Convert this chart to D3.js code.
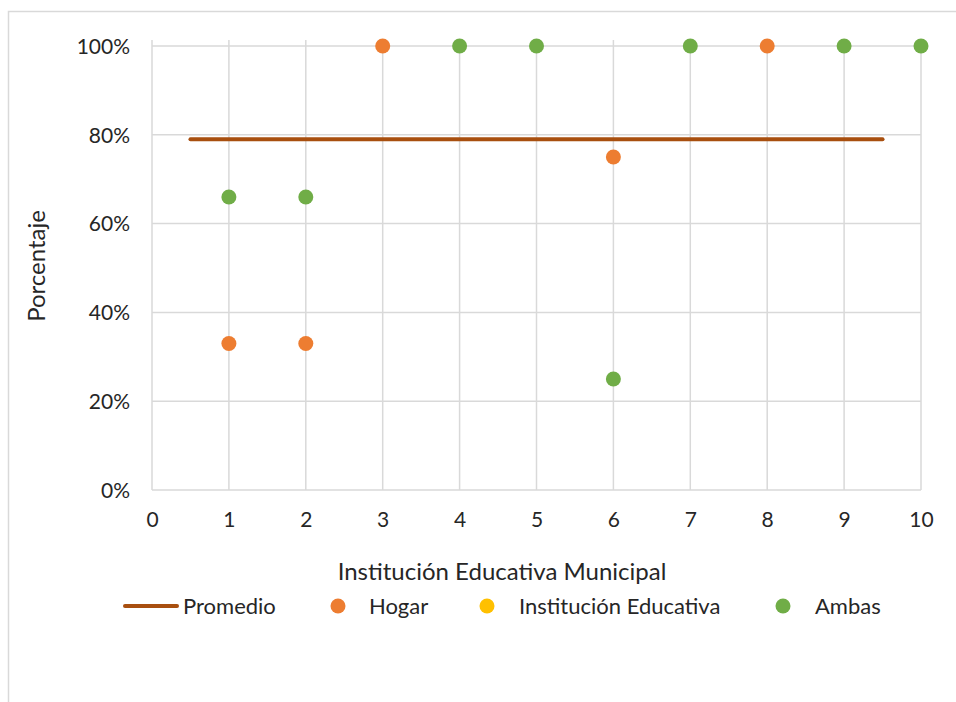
<!DOCTYPE html>
<html>
<head>
<meta charset="utf-8">
<script src="https://cdn.jsdelivr.net/npm/d3@7"></script>
<style>
  body { margin: 0; background: #fff; }
  text { font-family: Lato, "Open Sans", sans-serif; fill: #262626; }
</style>
</head>
<body>
<svg width="956" height="702"></svg>
<script>
const instituciones = [1, 2, 3, 4, 5, 6, 7, 8, 9, 10]
const hogar = [0.33, 0.33, 1.00, null, null, 0.75, null, 1.00, null, null]
const institucionEducativa = [null, null, null, null, null, null, null, null, null, null]
const ambas = [0.66, 0.66, null, 1.00, 1.00, 0.25, 1.00, null, 1.00, 1.00]
const promedio = [[0.5, 0.79], [9.5, 0.79]]
const xTicks = [0, 1, 2, 3, 4, 5, 6, 7, 8, 9, 10]
const yTicks = [0, 0.2, 0.4, 0.6, 0.8, 1.0]

const svg = d3.select("svg")

// borde del gráfico
svg.append("rect")
    .attr("x", 8.5).attr("y", 11.5)
    .attr("width", 1000).attr("height", 1000)
    .attr("fill", "none").attr("stroke", "#d9d9d9").attr("stroke-width", 1.5)

const x = d3.scaleLinear().domain([0, 10]).range([152, 921])
const y = d3.scaleLinear().domain([0, 1]).range([490, 46])

// rejilla
const grid = svg.append("g").attr("stroke", "#d9d9d9").attr("stroke-width", 1.5)
grid.selectAll("line.v")
    .data(xTicks)
    .enter()
    .append("line")
    .attr("x1", (d) => x(d)).attr("x2", (d) => x(d))
    .attr("y1", y(0)).attr("y2", y(1) - 6)
grid.selectAll("line.h")
    .data(yTicks)
    .enter()
    .append("line")
    .attr("x1", x(0)).attr("x2", x(10))
    .attr("y1", (d) => y(d)).attr("y2", (d) => y(d))

// etiquetas de ejes
const xAxis = svg.append("g")
    .attr("transform", "translate(0," + y(0) + ")")
    .call(d3.axisBottom(x).tickValues(xTicks).tickFormat(d3.format("d")).tickSize(0).tickPadding(22))
const yAxis = svg.append("g")
    .attr("transform", "translate(" + x(0) + ",0)")
    .call(d3.axisLeft(y).tickValues(yTicks).tickFormat(d3.format(".0%")).tickSize(0).tickPadding(22))
;[xAxis, yAxis].forEach((a) => {
    a.select(".domain").remove()
    a.selectAll("text").attr("font-size", 21).attr("font-family", "Lato").attr("fill", "#262626")
})
yAxis.selectAll("text").attr("dy", "0.35em")

svg.append("text")
    .attr("x", 502).attr("y", 580)
    .attr("text-anchor", "middle").attr("font-size", 24)
    .text("Institución Educativa Municipal")
svg.append("text")
    .attr("transform", "translate(45,266) rotate(-90)")
    .attr("text-anchor", "middle").attr("font-size", 24)
    .text("Porcentaje")

// promedio
svg.append("line")
    .attr("x1", x(promedio[0][0])).attr("x2", x(promedio[1][0]))
    .attr("y1", y(promedio[0][1])).attr("y2", y(promedio[1][1]))
    .attr("stroke", "#A84F0F").attr("stroke-width", 4).attr("stroke-linecap", "round")

// puntos
const series = [
    { name: "Hogar", values: hogar, color: "#ED7D31" },
    { name: "Institución Educativa", values: institucionEducativa, color: "#FFC000" },
    { name: "Ambas", values: ambas, color: "#70AD47" },
]
series.forEach((s) => {
    svg.append("g")
        .selectAll("circle")
        .data(instituciones.map((k, i) => ({ x: k, y: s.values[i] })).filter((d) => d.y !== null))
        .enter()
        .append("circle")
        .attr("r", 7.5)
        .attr("cx", (d) => x(d.x))
        .attr("cy", (d) => y(d.y))
        .attr("fill", s.color)
})

// leyenda
const ly = 606
const legend = svg.append("g")
legend.append("line")
    .attr("x1", 125).attr("x2", 177).attr("y1", ly).attr("y2", ly)
    .attr("stroke", "#A84F0F").attr("stroke-width", 4).attr("stroke-linecap", "round")
legend.append("text").attr("x", 183).attr("y", ly).attr("dy", "0.35em").attr("font-size", 22).text("Promedio")
const legendItems = [
    { s: series[0], cx: 338, tx: 369 },
    { s: series[1], cx: 487, tx: 519 },
    { s: series[2], cx: 783, tx: 815 },
]
legendItems.forEach((it) => {
    legend.append("circle").attr("cx", it.cx).attr("cy", ly).attr("r", 7.5).attr("fill", it.s.color)
    legend.append("text").attr("x", it.tx).attr("y", ly).attr("dy", "0.35em").attr("font-size", 22).text(it.s.name)
})
</script>
</body>
</html>
